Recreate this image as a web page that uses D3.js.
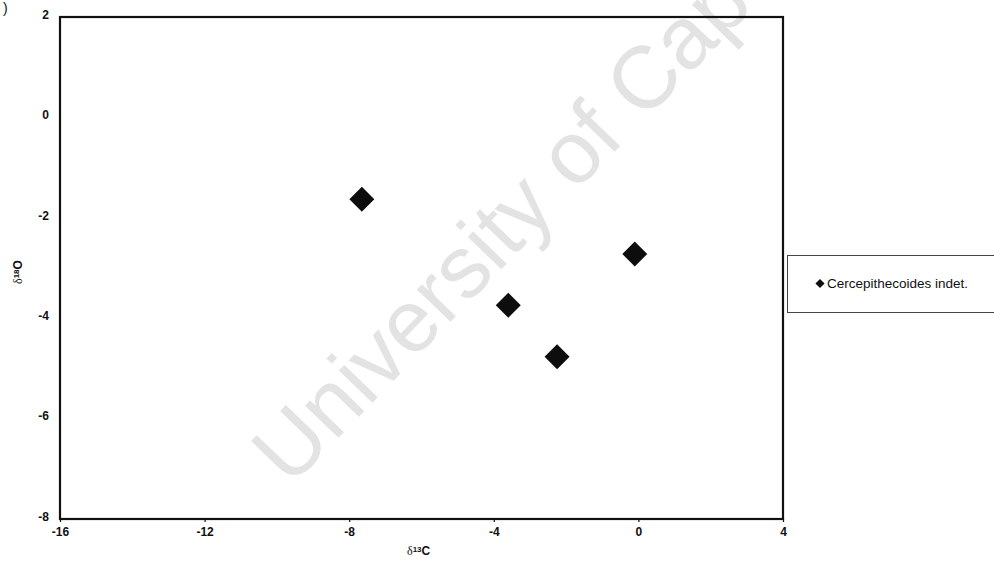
<!DOCTYPE html>
<html>
<head>
<meta charset="utf-8">
<script src="https://cdn.jsdelivr.net/npm/d3@7/dist/d3.min.js"></script>
<style>
  html, body { margin: 0; padding: 0; background: #fff; }
  svg { display: block; }
  text { font-family: "Liberation Sans", Arial, sans-serif; }
</style>
</head>
<body>
<svg id="chart" width="994" height="573"></svg>
<script>
// Stable isotope values (per mil) for each specimen
const seriesName = "Cercepithecoides indet.";
const d13C = [-7.65, -3.6, -2.25, -0.1];
const d18O = [-1.63, -3.74, -4.77, -2.72];

// Axis ranges and tick labels
const xDomain = [-16, 4];
const yDomain = [-8, 2];
const xTicks = [-16, -12, -8, -4, 0, 4];
const yTicks = [-8, -6, -4, -2, 0, 2];

const svg = d3.select("#chart");

const x = d3.scaleLinear().domain(xDomain).range([60, 783]);
const y = d3.scaleLinear().domain(yDomain).range([519, 17]);

// Panel letter (partially cut at the page edge)
svg.append("text")
  .attr("x", 3).attr("y", 13)
  .attr("font-size", 14)
  .attr("fill", "#111")
  .text(")");

// Watermark across the plot
svg.append("text")
  .attr("transform", "translate(290,488) rotate(-46)")
  .attr("font-size", 88)
  .attr("fill", "#e3e3e3")
  .text("University of Cape Town");

// X axis ticks and labels
const xAxis = d3.axisBottom(x).tickValues(xTicks).tickSize(3).tickPadding(5)
  .tickFormat(d3.format("d"));
const gx = svg.append("g")
  .attr("transform", `translate(0,${y(yDomain[0])})`)
  .call(xAxis);
gx.select(".domain").remove();
gx.selectAll(".tick line").attr("stroke", "#111").attr("stroke-width", 1.2);
gx.selectAll(".tick text")
  .attr("font-size", 12).attr("font-weight", "bold").attr("fill", "#111")
  .attr("font-family", "'Liberation Sans', Arial, sans-serif")
  .text(d => d3.format("d")(d).replace("\u2212", "-"));

// Y axis labels
const yAxis = d3.axisLeft(y).tickValues(yTicks).tickSize(0).tickPadding(11);
const gy = svg.append("g")
  .attr("transform", `translate(${x(xDomain[0])},0)`)
  .call(yAxis);
gy.select(".domain").remove();
gy.selectAll(".tick text")
  .attr("font-size", 12).attr("font-weight", "bold").attr("fill", "#111")
  .attr("font-family", "'Liberation Sans', Arial, sans-serif")
  .attr("dy", "0.1em")
  .text(d => d3.format("d")(d).replace("\u2212", "-"));

// Plot frame
svg.append("rect")
  .attr("x", x(xDomain[0])).attr("y", y(yDomain[1]))
  .attr("width", x(xDomain[1]) - x(xDomain[0]))
  .attr("height", y(yDomain[0]) - y(yDomain[1]))
  .attr("fill", "none").attr("stroke", "#111").attr("stroke-width", 2.2);

// Data points: filled diamonds
const diamond = d3.symbol().type(d3.symbolSquare).size(312);
svg.append("g").selectAll("path")
  .data(d13C.map((v, i) => ({ c: v, o: d18O[i] })))
  .join("path")
  .attr("d", diamond)
  .attr("transform", d => `translate(${x(d.c)},${y(d.o)}) rotate(45)`)
  .attr("fill", "#0d0d0d");

// Axis titles
const xt = svg.append("text")
  .attr("x", 407).attr("y", 555)
  .attr("fill", "#111");
xt.append("tspan").attr("font-family", "'Liberation Serif', serif").attr("font-size", 12).text("δ");
xt.append("tspan").attr("font-size", 8).attr("font-weight", "bold").attr("dy", -3).text("13");
xt.append("tspan").attr("font-size", 12).attr("font-weight", "bold").attr("dy", 3).text("C");

const yt = svg.append("text")
  .attr("transform", "translate(22,284) rotate(-90)")
  .attr("fill", "#111");
yt.append("tspan").attr("font-family", "'Liberation Serif', serif").attr("font-size", 12).text("δ");
yt.append("tspan").attr("font-size", 8).attr("font-weight", "bold").attr("dy", -3).text("18");
yt.append("tspan").attr("font-size", 12).attr("font-weight", "bold").attr("dy", 3).text("O");

// Legend
const lg = svg.append("g");
lg.append("rect")
  .attr("x", 787.5).attr("y", 255.5)
  .attr("width", 220).attr("height", 57)
  .attr("fill", "#fff").attr("stroke", "#444").attr("stroke-width", 1);
lg.append("path")
  .attr("d", d3.symbol().type(d3.symbolSquare).size(42))
  .attr("transform", "translate(820,283.5) rotate(45)")
  .attr("fill", "#0d0d0d");
lg.append("text")
  .attr("x", 827).attr("y", 283.5).attr("dy", "0.35em")
  .attr("font-size", 13.5).attr("fill", "#111")
  .text(seriesName);
</script>
</body>
</html>
